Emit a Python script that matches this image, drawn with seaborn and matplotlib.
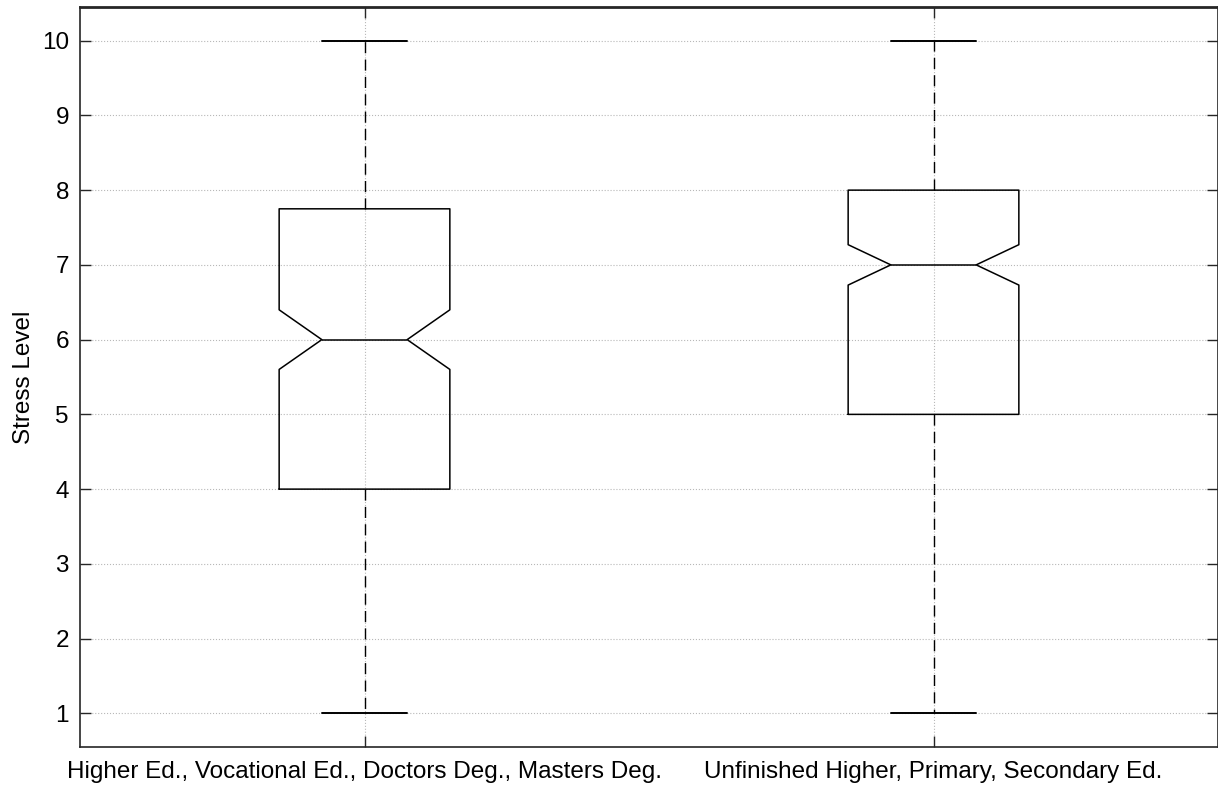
import numpy as np
import pandas as pd
import matplotlib
matplotlib.use("Agg")
import matplotlib.pyplot as plt
import seaborn as sns

# Data: counts of respondents per stress level (1..10) for each education group
levels = [1, 2, 3, 4, 5, 6, 7, 8, 9, 10]
groups = ["Higher Ed., Vocational Ed., Doctors Deg., Masters Deg.",
          "Unfinished Higher, Primary, Secondary Ed."]
counts_higher = [8, 14, 22, 28, 30, 36, 25, 28, 12, 15]
counts_unfinished = [6, 10, 18, 30, 40, 42, 50, 48, 30, 30]
yticks = [1, 2, 3, 4, 5, 6, 7, 8, 9, 10]

df = pd.DataFrame({
    "Education": np.concatenate([np.repeat(groups[0], sum(counts_higher)),
                                 np.repeat(groups[1], sum(counts_unfinished))]),
    "Stress Level": np.concatenate([np.repeat(levels, counts_higher),
                                    np.repeat(levels, counts_unfinished)]),
})

sns.set_theme(style="white")
plt.rcParams["font.family"] = ["Liberation Sans", "DejaVu Sans"]

fig = plt.figure(figsize=(12.18, 7.92), dpi=100)
ax = fig.add_axes([80 / 1218, 45 / 792, 1 - 80 / 1218, (747 - 7) / 792])

sns.boxplot(data=df, x="Education", y="Stress Level", order=groups,
            notch=True, width=0.3, fill=False, color="black",
            linecolor="black", linewidth=1.1, showfliers=False,
            whiskerprops=dict(linestyle=(0, (8, 4.5)), linewidth=1.0),
            capprops=dict(linewidth=1.4), ax=ax)

ax.set_xlim(-0.5, 1.5)
ax.set_ylim(0.55, 10.45)
ax.set_yticks(yticks)
ax.set_yticklabels([str(v) for v in yticks])
ax.set_xlabel("")
ax.set_ylabel("Stress Level", fontsize=17.5, labelpad=5, color="black")
ax.grid(True, which="major", axis="both", linestyle=":", linewidth=0.8, color="#b8b8b8")
ax.set_axisbelow(True)
ax.tick_params(axis="both", direction="in", length=8, width=1.0, color="#262626",
               top=True, right=True, bottom=True, left=True,
               labelsize=17.5, labelcolor="black")
ax.tick_params(axis="x", pad=10)
ax.tick_params(axis="y", pad=8)
for s in ax.spines.values():
    s.set_visible(True)
    s.set_color("#262626")
    s.set_linewidth(1.2)
ax.spines["top"].set_linewidth(2.0)

fig.savefig("out.png", dpi=100)
